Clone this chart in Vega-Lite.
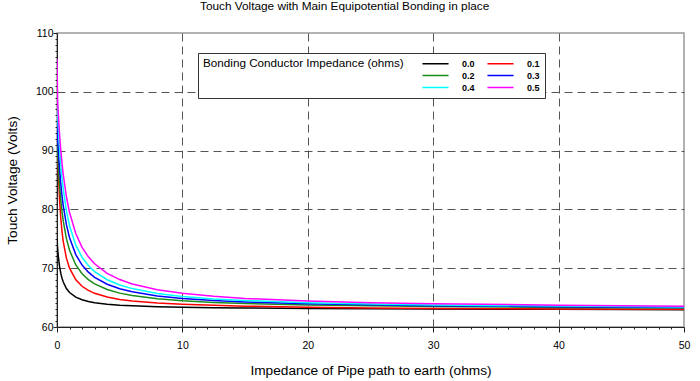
{
  "$schema": "https://vega.github.io/schema/vega-lite/v6.json",
  "width": 627,
  "height": 294,
  "autosize": {"type": "none"},
  "padding": {"left": 57, "top": 33, "right": 16, "bottom": 54},
  "background": "white",
  "title": {"text": "Touch Voltage with Main Equipotential Bonding in place", "fontSize": 11.8, "fontWeight": "normal", "color": "black", "frame": "bounds", "anchor": "middle", "offset": 15, "dx": -3},
  "config": {
    "font": "Liberation Sans",
    "view": {"stroke": "#999", "strokeWidth": 1.5}
  },
  "data": {"values": [
    {"bond":"0.0","R":0,"V":75},{"bond":"0.0","R":0.05,"V":73.36},{"bond":"0.0","R":0.1,"V":72.11},{"bond":"0.0","R":0.2,"V":70.34},{"bond":"0.0","R":0.3,"V":69.15},{"bond":"0.0","R":0.4,"V":68.29},{"bond":"0.0","R":0.5,"V":67.64},{"bond":"0.0","R":0.75,"V":66.55},{"bond":"0.0","R":1,"V":65.87},{"bond":"0.0","R":1.5,"V":65.08},{"bond":"0.0","R":2,"V":64.63},{"bond":"0.0","R":2.5,"V":64.34},{"bond":"0.0","R":3,"V":64.14},{"bond":"0.0","R":4,"V":63.88},{"bond":"0.0","R":5,"V":63.71},{"bond":"0.0","R":6,"V":63.6},{"bond":"0.0","R":8,"V":63.45},{"bond":"0.0","R":10,"V":63.37},{"bond":"0.0","R":12.5,"V":63.29},{"bond":"0.0","R":15,"V":63.23},{"bond":"0.0","R":20,"V":63.15},{"bond":"0.0","R":25,"V":63.1},{"bond":"0.0","R":30,"V":63.05},{"bond":"0.0","R":40,"V":63.0},{"bond":"0.0","R":50,"V":62.95},
    {"bond":"0.1","R":0,"V":92},{"bond":"0.1","R":0.05,"V":90.5},{"bond":"0.1","R":0.1,"V":86.81},{"bond":"0.1","R":0.2,"V":81.8},{"bond":"0.1","R":0.3,"V":78.53},{"bond":"0.1","R":0.4,"V":76.23},{"bond":"0.1","R":0.5,"V":74.52},{"bond":"0.1","R":0.75,"V":71.71},{"bond":"0.1","R":1,"V":70.0},{"bond":"0.1","R":1.5,"V":68.03},{"bond":"0.1","R":2,"V":66.93},{"bond":"0.1","R":2.5,"V":66.22},{"bond":"0.1","R":3,"V":65.73},{"bond":"0.1","R":4,"V":65.09},{"bond":"0.1","R":5,"V":64.69},{"bond":"0.1","R":6,"V":64.42},{"bond":"0.1","R":8,"V":64.08},{"bond":"0.1","R":10,"V":63.87},{"bond":"0.1","R":12.5,"V":63.7},{"bond":"0.1","R":15,"V":63.55},{"bond":"0.1","R":20,"V":63.38},{"bond":"0.1","R":25,"V":63.25},{"bond":"0.1","R":30,"V":63.15},{"bond":"0.1","R":40,"V":63.05},{"bond":"0.1","R":50,"V":63.0},
    {"bond":"0.2","R":0,"V":94},{"bond":"0.2","R":0.05,"V":89.9},{"bond":"0.2","R":0.1,"V":87.72},{"bond":"0.2","R":0.2,"V":84.27},{"bond":"0.2","R":0.3,"V":81.66},{"bond":"0.2","R":0.4,"V":79.63},{"bond":"0.2","R":0.5,"V":77.99},{"bond":"0.2","R":0.75,"V":75.03},{"bond":"0.2","R":1,"V":73.05},{"bond":"0.2","R":1.5,"V":70.55},{"bond":"0.2","R":2,"V":69.05},{"bond":"0.2","R":2.5,"V":68.05},{"bond":"0.2","R":3,"V":67.33},{"bond":"0.2","R":4,"V":66.37},{"bond":"0.2","R":5,"V":65.76},{"bond":"0.2","R":6,"V":65.34},{"bond":"0.2","R":8,"V":64.79},{"bond":"0.2","R":10,"V":64.45},{"bond":"0.2","R":12.5,"V":64.17},{"bond":"0.2","R":15,"V":63.98},{"bond":"0.2","R":20,"V":63.74},{"bond":"0.2","R":25,"V":63.6},{"bond":"0.2","R":30,"V":63.48},{"bond":"0.2","R":40,"V":63.33},{"bond":"0.2","R":50,"V":63.22},
    {"bond":"0.3","R":0,"V":98.5},{"bond":"0.3","R":0.05,"V":92.39},{"bond":"0.3","R":0.1,"V":90.35},{"bond":"0.3","R":0.2,"V":87.03},{"bond":"0.3","R":0.3,"V":84.42},{"bond":"0.3","R":0.4,"V":82.32},{"bond":"0.3","R":0.5,"V":80.6},{"bond":"0.3","R":0.75,"V":77.4},{"bond":"0.3","R":1,"V":75.18},{"bond":"0.3","R":1.5,"V":72.31},{"bond":"0.3","R":2,"V":70.53},{"bond":"0.3","R":2.5,"V":69.33},{"bond":"0.3","R":3,"V":68.45},{"bond":"0.3","R":4,"V":67.27},{"bond":"0.3","R":5,"V":66.51},{"bond":"0.3","R":6,"V":65.98},{"bond":"0.3","R":8,"V":65.29},{"bond":"0.3","R":10,"V":64.86},{"bond":"0.3","R":12.5,"V":64.51},{"bond":"0.3","R":15,"V":64.26},{"bond":"0.3","R":20,"V":63.96},{"bond":"0.3","R":25,"V":63.77},{"bond":"0.3","R":30,"V":63.63},{"bond":"0.3","R":40,"V":63.45},{"bond":"0.3","R":50,"V":63.33},
    {"bond":"0.4","R":0,"V":102.5},{"bond":"0.4","R":0.05,"V":96.53},{"bond":"0.4","R":0.1,"V":94.3},{"bond":"0.4","R":0.2,"V":90.61},{"bond":"0.4","R":0.3,"V":87.7},{"bond":"0.4","R":0.4,"V":85.35},{"bond":"0.4","R":0.5,"V":83.4},{"bond":"0.4","R":0.75,"V":79.75},{"bond":"0.4","R":1,"V":77.21},{"bond":"0.4","R":1.5,"V":73.91},{"bond":"0.4","R":2,"V":71.85},{"bond":"0.4","R":2.5,"V":70.44},{"bond":"0.4","R":3,"V":69.42},{"bond":"0.4","R":4,"V":68.04},{"bond":"0.4","R":5,"V":67.15},{"bond":"0.4","R":6,"V":66.53},{"bond":"0.4","R":8,"V":65.71},{"bond":"0.4","R":10,"V":65.2},{"bond":"0.4","R":12.5,"V":64.78},{"bond":"0.4","R":15,"V":64.5},{"bond":"0.4","R":20,"V":64.14},{"bond":"0.4","R":25,"V":63.91},{"bond":"0.4","R":30,"V":63.75},{"bond":"0.4","R":40,"V":63.56},{"bond":"0.4","R":50,"V":63.42},
    {"bond":"0.5","R":0,"V":105.6},{"bond":"0.5","R":0.05,"V":98.3},{"bond":"0.5","R":0.1,"V":96.3},{"bond":"0.5","R":0.2,"V":92.9},{"bond":"0.5","R":0.3,"V":90.13},{"bond":"0.5","R":0.4,"V":87.83},{"bond":"0.5","R":0.5,"V":85.89},{"bond":"0.5","R":0.75,"V":82.15},{"bond":"0.5","R":1,"V":79.46},{"bond":"0.5","R":1.5,"V":75.85},{"bond":"0.5","R":2,"V":73.54},{"bond":"0.5","R":2.5,"V":71.93},{"bond":"0.5","R":3,"V":70.75},{"bond":"0.5","R":4,"V":69.13},{"bond":"0.5","R":5,"V":68.07},{"bond":"0.5","R":6,"V":67.32},{"bond":"0.5","R":8,"V":66.34},{"bond":"0.5","R":10,"V":65.72},{"bond":"0.5","R":12.5,"V":65.21},{"bond":"0.5","R":15,"V":64.86},{"bond":"0.5","R":20,"V":64.41},{"bond":"0.5","R":25,"V":64.14},{"bond":"0.5","R":30,"V":63.95},{"bond":"0.5","R":40,"V":63.72},{"bond":"0.5","R":50,"V":63.55}
  ]},
  "mark": {"type": "line", "strokeWidth": 1.5, "clip": true},
  "encoding": {
    "x": {
      "field": "R", "type": "quantitative",
      "scale": {"domain": [0, 50], "nice": false, "zero": false},
      "axis": {
        "title": "Impedance of Pipe path to earth (ohms)",
        "values": [0,1,2,3,4,5,6,7,8,9,10,11,12,13,14,15,16,17,18,19,20,21,22,23,24,25,26,27,28,29,30,31,32,33,34,35,36,37,38,39,40,41,42,43,44,45,46,47,48,49,50],
        "labelExpr": "datum.value % 10 === 0 ? datum.label : ''",
        "labelOverlap": false,
        "labelFlush": false,
        "labelFontSize": 10.5,
        "labelColor": "black",
        "labelPadding": 8,
        "tickColor": "#222",
        "tickSize": {"condition": {"test": "datum.value % 10 !== 0", "value": 2}, "value": 5},
        "domainColor": "#222",
        "grid": true,
        "gridColor": "#555",
        "gridDash": [8, 5],
        "gridWidth": 1,
        "gridOpacity": {"condition": {"test": "datum.value % 10 === 0 && datum.value > 0 && datum.value < 50", "value": 1}, "value": 0},
        "titleFontSize": 13.7,
        "titleFontWeight": "normal",
        "titleColor": "black",
        "titlePadding": 13
      }
    },
    "y": {
      "field": "V", "type": "quantitative",
      "scale": {"domain": [60, 110], "nice": false, "zero": false},
      "axis": {
        "title": "Touch Voltage (Volts)",
        "values": [60,61,62,63,64,65,66,67,68,69,70,71,72,73,74,75,76,77,78,79,80,81,82,83,84,85,86,87,88,89,90,91,92,93,94,95,96,97,98,99,100,101,102,103,104,105,106,107,108,109,110],
        "labelExpr": "datum.value % 10 === 0 ? datum.label : ''",
        "labelOverlap": false,
        "labelFlush": false,
        "labelFontSize": 10.5,
        "labelColor": "black",
        "labelPadding": 0,
        "tickColor": "#222",
        "tickSize": {"condition": {"test": "datum.value % 10 !== 0", "value": 2}, "value": 4},
        "domainColor": "#222",
        "grid": true,
        "gridColor": "#555",
        "gridDash": [8, 5],
        "gridWidth": 1,
        "gridOpacity": {"condition": {"test": "datum.value % 10 === 0 && datum.value > 60 && datum.value < 110", "value": 1}, "value": 0},
        "titleFontSize": 13.7,
        "titleFontWeight": "normal",
        "titleColor": "black",
        "titlePadding": 16
      }
    },
    "color": {
      "field": "bond", "type": "nominal",
      "scale": {"domain": ["0.0","0.1","0.2","0.3","0.4","0.5"], "range": ["#000000","#ff0000","#1a8c1a","#0000ff","#00ffff","#ff00ff"]},
      "legend": {
        "orient": "none", "legendX": 141, "legendY": 20,
        "direction": "horizontal", "columns": 2,
        "title": "Bonding Conductor Impedance (ohms)",
        "titleOrient": "left", "titleAnchor": "start", "titleLimit": 400,
        "titleFontSize": 11.7, "titleFontWeight": "normal", "titleColor": "black", "titlePadding": 26,
        "labelFontSize": 9, "labelFontWeight": "bold", "labelColor": "black",
        "symbolType": "M-2.9,0H2.9", "symbolSize": 81, "symbolStrokeWidth": 1.5,
        "labelOffset": 21, "columnPadding": 9, "rowPadding": 1,
        "strokeColor": "#333", "fillColor": "white", "padding": 5
      }
    }
  }
}
